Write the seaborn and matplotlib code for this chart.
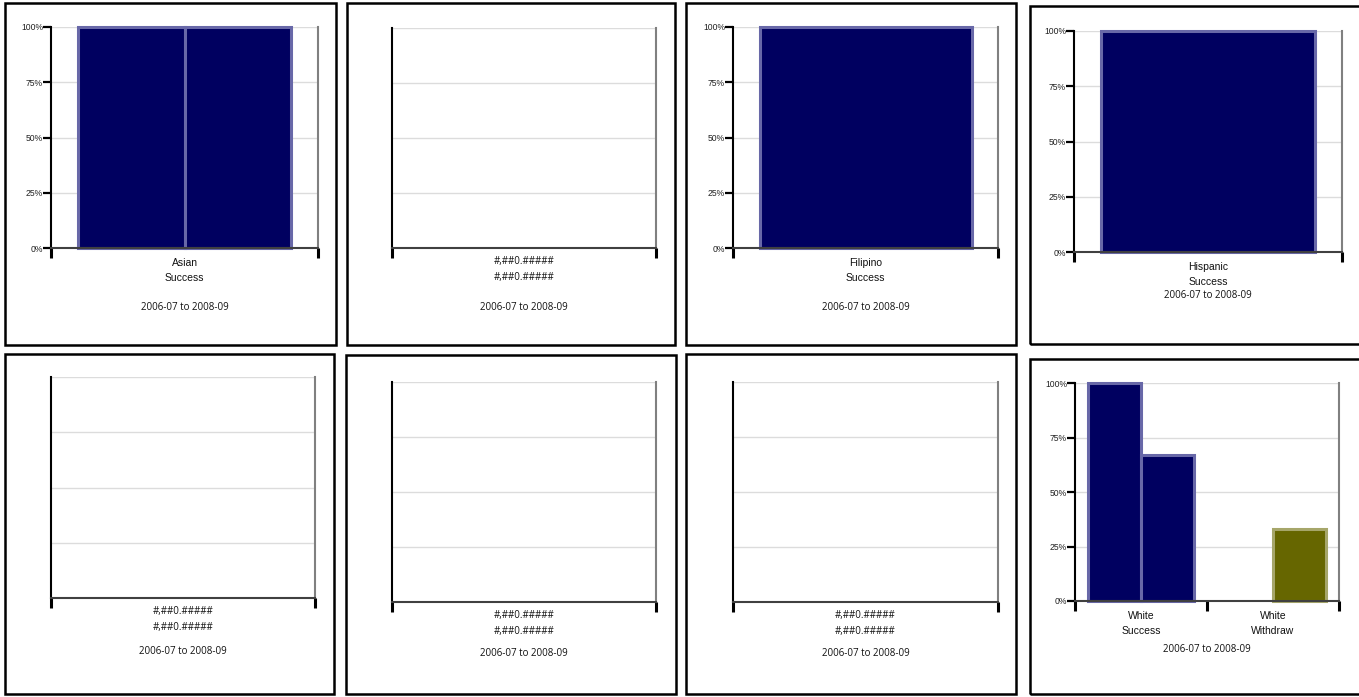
import matplotlib
matplotlib.use("Agg")
import numpy as np
import pandas as pd
import seaborn as sns
import matplotlib.pyplot as plt
from matplotlib.patches import Rectangle

# ---------------- data ----------------
period_label = "2006-07 to 2008-09"
empty_label = "#,##0.#####\n#,##0.#####"
series_names = ["Series A", "Series B"]

asian_categories = ["Asian\nSuccess"]
asian_outcomes = ["Success"]
asian_series_a = [100]
asian_series_b = [100]

filipino_categories = ["Filipino\nSuccess"]
filipino_outcomes = ["Success"]
filipino_series_a = [100]

hispanic_categories = ["Hispanic\nSuccess"]
hispanic_outcomes = ["Success"]
hispanic_series_a = [100]

white_categories = ["White\nSuccess", "White\nWithdraw"]
white_outcomes = ["Success", "Withdraw"]
white_series_a = [100, None]
white_series_b = [67, 33]

y_ticks = [0, 25, 50, 75, 100]
y_tick_labels = ["0%", "25%", "50%", "75%", "100%"]

face_colors = {"Success": "#000060", "Withdraw": "#666600"}
edge_colors = {"Success": "#6868a8", "Withdraw": "#a6a66a"}

# ---------------- layout (pixels) ----------------
W, H = 1359, 697
sns.set_theme(style="white")
plt.rcParams["font.family"] = ["Liberation Sans", "DejaVu Sans"]
fig = plt.figure(figsize=(W / 100, H / 100), dpi=100)
fig.patch.set_facecolor("white")

panel_boxes = [(5, 3, 336, 345), (347, 3, 675, 345), (686, 3, 1016, 345), (1030, 6, 1365, 344),
               (5, 354, 334, 694), (346, 355, 676, 694), (686, 354, 1016, 694), (1030, 359, 1365, 694)]
axes_rects = [(51, 27, 318, 248), (392, 28, 656, 248), (733, 27, 998, 248), (1074, 31, 1342, 252),
              (51, 377, 315, 598), (392, 382, 656, 602), (733, 382, 998, 602), (1075, 383, 1339, 601)]
date_y = [307, 308, 307, 296, 651, 653, 653, 650]

for (l, t, r, b) in panel_boxes:
    fig.patches.append(Rectangle((l / W, 1 - b / H), (r - l) / W, (b - t) / H,
                                 transform=fig.transFigure, fill=False,
                                 edgecolor="black", linewidth=1.8))


def make_axes(rect):
    l, t, r, b = rect
    return fig.add_axes([l / W, 1 - b / H, (r - l) / W, (b - t) / H])


def style_axes(ax, labels, show_y, hash_font=False):
    n = len(labels)
    ax.set_xlim(-0.5, n - 0.5)
    ax.set_ylim(0, 100)
    ax.set_facecolor("white")
    ax.set_xlabel("")
    ax.set_ylabel("")
    ax.set_yticks(y_ticks)
    ax.yaxis.grid(True, color="#dcdcdc", linewidth=1.0)
    ax.xaxis.grid(False)
    ax.set_axisbelow(True)
    ax.spines["top"].set_visible(False)
    ax.spines["left"].set_color("black")
    ax.spines["left"].set_linewidth(1.5)
    ax.spines["right"].set_color("#808080")
    ax.spines["right"].set_linewidth(1.5)
    ax.spines["bottom"].set_color("#404040")
    ax.spines["bottom"].set_linewidth(1.5)
    if show_y:
        ax.set_yticklabels(y_tick_labels)
        ax.tick_params(axis="y", length=5.5, width=1.6, color="black", direction="out",
                       labelsize=6.2, pad=0.3, left=True, labelcolor="#222222")
    else:
        ax.set_yticklabels([])
        ax.tick_params(axis="y", length=0, left=False)
    ax.set_xticks(np.arange(n + 1) - 0.5)
    ax.set_xticklabels([])
    ax.tick_params(axis="x", which="major", length=7.5, width=2.2, color="black",
                   direction="out", bottom=True)
    ax.set_xticks(np.arange(n), minor=True)
    ax.set_xticklabels(labels, minor=True)
    ax.tick_params(axis="x", which="minor", length=0, pad=5.5 if hash_font else 7,
                   labelsize=7.5, labelcolor="#111111")
    for t in ax.get_xticklabels(minor=True):
        if hash_font:
            t.set_fontfamily(["Open Sans", "DejaVu Sans"])
            t.set_fontsize(7)
            t.set_linespacing(1.65)
        else:
            t.set_linespacing(1.68)


def draw_bars(ax, categories, outcomes, series_values):
    rows = []
    for name, vals in zip(series_names, series_values):
        for c, v in zip(categories, vals):
            if v is not None:
                rows.append({"category": c, "pct": v, "series": name})
    df = pd.DataFrame(rows)
    used_series = series_names[:len(series_values)]
    sns.barplot(data=df, x="category", y="pct", hue="series", order=categories,
                hue_order=used_series, width=0.8, linewidth=2.2, legend=False,
                ax=ax, errorbar=None)
    for p in ax.patches:
        cx = p.get_x() + p.get_width() / 2
        idx = int(round(cx))
        oc = outcomes[idx]
        p.set_facecolor(face_colors[oc])
        p.set_edgecolor(edge_colors[oc])
        p.set_clip_on(False)


panels = [
    ("bars", asian_categories, asian_outcomes, [asian_series_a, asian_series_b]),
    ("empty", None, None, None),
    ("bars", filipino_categories, filipino_outcomes, [filipino_series_a]),
    ("bars", hispanic_categories, hispanic_outcomes, [hispanic_series_a]),
    ("empty", None, None, None),
    ("empty", None, None, None),
    ("empty", None, None, None),
    ("bars", white_categories, white_outcomes, [white_series_a, white_series_b]),
]

for i, (kind, cats, outs, vals) in enumerate(panels):
    ax = make_axes(axes_rects[i])
    if kind == "bars":
        draw_bars(ax, cats, outs, vals)
        style_axes(ax, cats, True)
    else:
        style_axes(ax, [empty_label], False, hash_font=True)
    l, t, r, b = axes_rects[i]
    fig.text(((l + r) / 2) / W, 1 - date_y[i] / H, period_label, ha="center", va="center",
             fontsize=7, family=["Open Sans", "DejaVu Sans"], color="#111111")

fig.savefig("out.png", dpi=100, facecolor="white")
